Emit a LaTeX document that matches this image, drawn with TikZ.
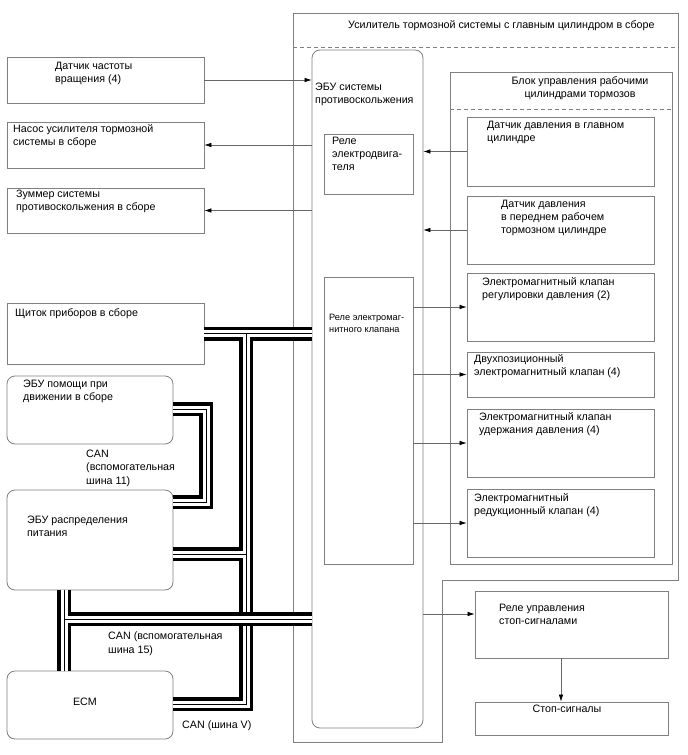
\documentclass[tikz,border=0pt]{standalone}
\usepackage{fontspec}
\setmainfont{Liberation Sans}
\usetikzlibrary{arrows.meta,fit}
\newcommand\tnode[5]{\node[#1] (#2) at (#3,#4-6.0) {#5};}
\newcommand\buspaths[1]{%
  \draw[#1] (clus.east) -- (clus.east -| ecu.west);
  \draw[#1] (jA) -- (jB);
  \draw[#1] (jC) -- (jD);
  \draw[#1] (jE) -- (jE -| ecu.west);
  \draw[#1] (jF) -- (jG);
  \draw[#1] (jH) -- (jI) -- (jJ);
  \draw[#1] (jK) -- (jL) -- (jM) -- (jN);
}
\begin{document}
\begin{tikzpicture}[x=1pt,y=-1pt,
  frm/.style={draw=black!50, line width=0.8pt},
  bx/.style={draw=black!50, line width=0.8pt, inner sep=0pt},
  rbx/.style={bx, rounded corners=8pt},
  dashln/.style={draw=black!50, line width=0.8pt, dash pattern=on 4pt off 3pt},
  txt/.style={anchor=north west, inner sep=0pt, align=left, font=\fontsize{10.7}{13.2}\selectfont, execute at begin node=\strut},
  ctxt/.style={txt, anchor=north, align=center},
  stxt/.style={txt, font=\fontsize{9.2}{11.8}\selectfont},
  conn/.style={draw=black!60, line width=0.6pt, -{Latex[length=7pt,width=4.5pt,color=black]}},
  busO/.style={line width=14pt, draw=black},
  busW/.style={line width=7pt, draw=white},
  busI/.style={line width=0.9pt, draw=black},
]
\useasboundingbox (0,0) rectangle (688,755);
\fill[white] (0,0) rectangle (688,755);

% outer frame
\draw[frm] (293,13) -- (678,13) -- (678,580) -- (442,580) -- (442,742) -- (293,742) -- cycle;
\draw[dashln] (293,47) -- (678,47);

% boxes
\node[bx, fit={(7,57)(204,103)}] (sens) {};
\node[bx, fit={(7,122)(204,168)}] (pump) {};
\node[bx, fit={(7,188)(204,233)}] (buzz) {};
\node[bx, fit={(7,303)(204,364)}] (clus) {};
\node[rbx, fit={(7,376)(173,444)}] (assist) {};
\node[rbx, fit={(7,490)(173,590)}] (dist) {};
\node[rbx, fit={(7,671)(173,739)}] (ecm) {};
\node[rbx, fit={(312,50)(423,728)}] (ecu) {};
\node[bx, fit={(324,134)(413,194)}] (rm) {};
\node[bx, fit={(324,277)(413,564)}] (rv) {};
\node[bx, fit={(450,72)(672,564)}] (blk) {};
\draw[dashln] (blk.west |- 0,109) -- (blk.east |- 0,109);
\node[bx, fit={(467,117)(654,186)}] (mcps) {};
\node[bx, fit={(467,196)(654,264)}] (wcps) {};
\node[bx, fit={(467,273)(654,341)}] (v1) {};
\node[bx, fit={(467,352)(654,397)}] (v2) {};
\node[bx, fit={(467,409)(654,477)}] (v3) {};
\node[bx, fit={(467,489)(654,557)}] (v4) {};
\node[bx, fit={(475,591)(668,658)}] (sr) {};
\node[bx, fit={(475,702)(668,735)}] (sl) {};

% bus junction coordinates
\coordinate (jA) at (246,333.5);
\coordinate (jB) at (246,612);
\coordinate (jC) at (173,554);
\coordinate (jD) at (246,554);
\coordinate (jE) at (64,619);
\coordinate (jF) at (64,590);
\coordinate (jG) at (64,671);
\coordinate (jH) at (173,704);
\coordinate (jI) at (246,704);
\coordinate (jJ) at (246,626);
\coordinate (jK) at (173,409);
\coordinate (jL) at (206,409);
\coordinate (jM) at (206,502);
\coordinate (jN) at (173,502);
\buspaths{busO}
\buspaths{busW}
\buspaths{busI}

% arrows
\draw[conn] (sens.east) -- (sens.east -| ecu.west);
\draw[conn] (pump.east -| ecu.west) -- (pump.east);
\draw[conn] (buzz.east -| ecu.west) -- (buzz.east);
\draw[conn] (mcps.west) -- (mcps.west -| ecu.east);
\draw[conn] (wcps.west) -- (wcps.west -| ecu.east);
\draw[conn] (v1.west -| rv.east) -- (v1.west);
\draw[conn] (v2.west -| rv.east) -- (v2.west);
\draw[conn] (v3.west -| rv.east) -- (v3.west);
\draw[conn] (v4.west -| rv.east) -- (v4.west);
\draw[conn] ([yshift=10.5pt]sr.west -| ecu.east) -- ([yshift=10.5pt]sr.west);
\draw[conn] ([xshift=-10.5pt]sr.south) -- ([xshift=-10.5pt]sr.south |- sl.north);

% texts
\tnode{txt}{t1}{348}{25}{Усилитель тормозной системы с главным цилиндром в сборе}
\tnode{txt}{t2}{55}{68}{Датчик частоты\\вращения (4)}
\tnode{txt}{t3}{13}{130}{Насос усилителя тормозной\\системы в сборе}
\tnode{txt}{t4}{16}{196}{Зуммер системы\\противоскольжения в сборе}
\tnode{txt}{t5}{15}{313}{Щиток приборов в сборе}
\tnode{txt}{t6}{23}{386}{ЭБУ помощи при\\движении в сборе}
\tnode{txt}{t7}{86}{456}{CAN\\(вспомогательная\\шина 11)}
\tnode{txt}{t8}{27}{522}{ЭБУ распределения\\питания}
\tnode{txt}{t9}{108}{638}{CAN (вспомогательная\\шина 15)}
\tnode{ctxt}{t10}{85}{702}{ECM}
\tnode{txt}{t11}{182}{725}{CAN (шина V)}
\tnode{txt}{t12}{315}{89}{ЭБУ системы\\противоскольжения}
\tnode{txt}{t13}{332}{143}{Реле\\электродвига-\\теля}
\tnode{stxt}{t14}{329}{320}{Реле электромаг-\\нитного клапана}
\tnode{ctxt}{t15}{580}{82}{Блок управления рабочими\\цилиндрами тормозов}
\tnode{txt}{t16}{487}{127}{Датчик давления в главном\\цилиндре}
\tnode{txt}{t17}{501}{206}{Датчик давления\\в переднем рабочем\\тормозном цилиндре}
\tnode{txt}{t18}{482}{283}{Электромагнитный клапан\\регулировки давления (2)}
\tnode{txt}{t19}{474}{360}{Двухпозиционный\\электромагнитный клапан (4)}
\tnode{txt}{t20}{479}{418}{Электромагнитный клапан\\удержания давления (4)}
\tnode{txt}{t21}{474}{499}{Электромагнитный\\редукционный клапан (4)}
\tnode{txt}{t22}{499}{610}{Реле управления\\стоп-сигналами}
\tnode{ctxt}{t23}{567}{709}{Стоп-сигналы}
\end{tikzpicture}
\end{document}
